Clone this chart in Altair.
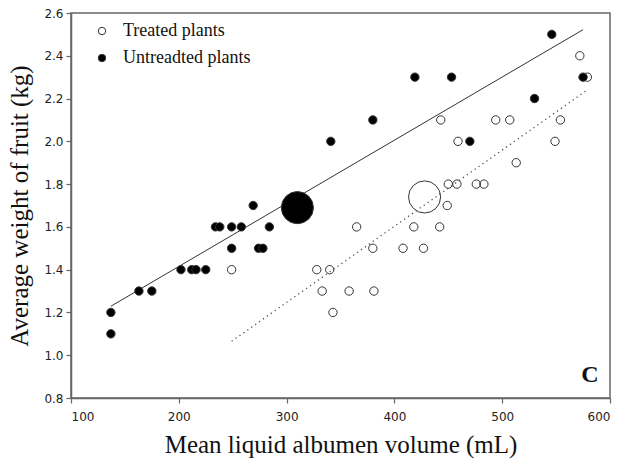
import altair as alt
import pandas as pd

# Individual plants: mean liquid albumen volume (mL) vs average fruit weight (kg)
untreated_x = [137, 137, 163, 175, 202, 212, 216, 225, 234, 238, 249, 258, 249,
               274, 278, 284, 269, 341, 380, 419, 453, 470, 530, 546, 575]
untreated_y = [1.1, 1.2, 1.3, 1.3, 1.4, 1.4, 1.4, 1.4, 1.6, 1.6, 1.6, 1.6, 1.5,
               1.5, 1.5, 1.6, 1.7, 2.0, 2.1, 2.3, 2.3, 2.0, 2.2, 2.5, 2.3]

treated_x = [249, 328, 340, 333, 358, 381, 343, 365, 380, 408, 427, 418, 442, 449,
             450, 458, 476, 483, 459, 443, 494, 507, 513, 549, 554, 572, 579]
treated_y = [1.4, 1.4, 1.4, 1.3, 1.3, 1.3, 1.2, 1.6, 1.5, 1.5, 1.5, 1.6, 1.6, 1.7,
             1.8, 1.8, 1.8, 1.8, 2.0, 2.1, 2.1, 2.1, 1.9, 2.0, 2.1, 2.4, 2.3]

groups = ["Treated plants", "Untreadted plants"]

# Group means (large symbols)
mean_x = [428, 310]
mean_y = [1.74, 1.69]

# Fitted regression lines (end points)
fit_untreated_x = [137, 575]
fit_untreated_y = [1.229, 2.522]
fit_treated_x = [249, 578]
fit_treated_y = [1.065, 2.237]

points = pd.DataFrame({
    "volume": treated_x + untreated_x,
    "weight": treated_y + untreated_y,
    "group": [groups[0]] * len(treated_x) + [groups[1]] * len(untreated_x),
})
means = pd.DataFrame({"volume": mean_x, "weight": mean_y, "group": groups})
fit_u = pd.DataFrame({"volume": fit_untreated_x, "weight": fit_untreated_y})
fit_t = pd.DataFrame({"volume": fit_treated_x, "weight": fit_treated_y})

x_scale = alt.Scale(domain=[100, 600], nice=False, zero=False)
y_scale = alt.Scale(domain=[0.8, 2.6], nice=False, zero=False)
fill_scale = alt.Scale(domain=groups, range=["rgba(255,255,255,0)", "black"])

x_enc = alt.X(
    "volume:Q", scale=x_scale,
    axis=alt.Axis(title="Mean liquid albumen volume (mL)",
                  values=[100, 200, 300, 400, 500, 600], format="d",
                  labelPadding=8, titlePadding=10),
)
y_enc = alt.Y(
    "weight:Q", scale=y_scale,
    axis=alt.Axis(title="Average weight of fruit (kg)",
                  values=[0.8, 1.0, 1.2, 1.4, 1.6, 1.8, 2.0, 2.2, 2.4, 2.6],
                  format=".1f", labelPadding=3, titlePadding=11),
)

line_u = alt.Chart(fit_u).mark_line(color="#333", strokeWidth=1).encode(
    x=x_enc, y=y_enc)
line_t = alt.Chart(fit_t).mark_line(
    color="#555", strokeWidth=1.3, strokeDash=[1.3, 3.5]).encode(x=x_enc, y=y_enc)

dots = alt.Chart(points).mark_point(
    filled=True, shape="circle", size=70, stroke="#333", strokeWidth=1, opacity=1
).encode(
    x=x_enc, y=y_enc,
    fill=alt.Fill("group:N", scale=fill_scale, title=None,
                  legend=alt.Legend(orient="none", legendX=22, legendY=9,
                                    labelFont="Liberation Serif", labelFontSize=18,
                                    labelColor="#111", symbolSize=55,
                                    symbolStrokeColor="#333", symbolStrokeWidth=1,
                                    labelOffset=12, rowPadding=9, padding=0)),
)

big = alt.Chart(means).mark_point(
    filled=True, shape="circle", size=1030, stroke="#333", strokeWidth=1, opacity=1
).encode(x=x_enc, y=y_enc, fill=alt.Fill("group:N", scale=fill_scale))

panel = alt.Chart(pd.DataFrame({"t": ["C"]})).mark_text(
    font="Liberation Serif", fontSize=24, fontWeight="bold", color="#111",
    align="center", baseline="middle"
).encode(text="t:N", x=alt.value(519), y=alt.value(362))

chart = alt.layer(line_u, line_t, dots, big, panel).properties(
    width=539, height=385,
    autosize=alt.AutoSizeParams(type="none"),
    padding={"left": 71, "top": 13, "right": 11, "bottom": 70},
    background="white",
).configure_view(
    stroke="#666", strokeWidth=1.5
).configure_axis(
    grid=False, domainColor="#666", domainWidth=1.5, tickColor="#666",
    tickWidth=1.2, tickSize=5, labelFont="DejaVu Sans", labelFontSize=12,
    labelColor="#222", titleFont="Liberation Serif", titleFontSize=25,
    titleFontWeight="normal", titleColor="#111",
)

chart.save("out.html", embed_options={"renderer": "svg", "actions": False})
